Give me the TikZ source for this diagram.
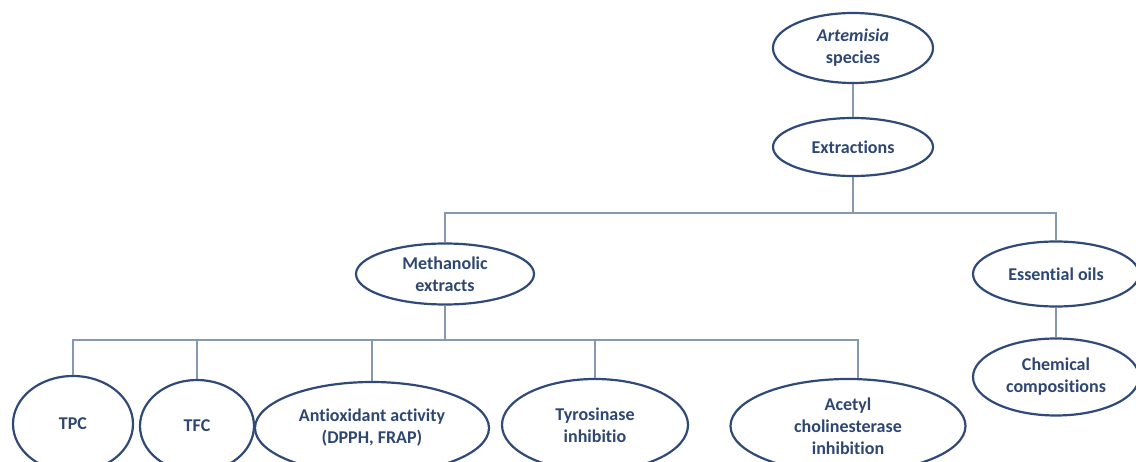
\documentclass[tikz,border=0pt]{standalone}
\usepackage{fontspec}
\setmainfont{Carlito}[Ligatures=NoCommon]
\usepackage{tikz}
\usetikzlibrary{shapes.geometric}

\definecolor{navy}{HTML}{2F4A78}
\definecolor{txtblue}{HTML}{2D4672}
\definecolor{linkgray}{HTML}{8598B0}

\tikzset{
  oval/.style={ellipse, draw=navy, line width=2.2pt, inner sep=0pt,
    align=center, text=txtblue,
    font=\fontsize{18}{22}\selectfont\bfseries},
  link/.style={draw=linkgray, line width=1.2pt}
}

\begin{document}
\begin{tikzpicture}[x=1pt,y=-1pt]
	\useasboundingbox (0,0) rectangle (1136,462);
	\clip (0,0) rectangle (1136,462);

	% top of the tree
	\node[oval, minimum width=160, minimum height=70] at (853,48) (artemisia) {\textit{Artemisia}\\species};
	\node[oval, minimum width=160, minimum height=58] at (853,147) (extr) {Extractions};

	\node[oval, minimum width=178, minimum height=61] at (445,274) (meth) {Methanolic\\extracts};
	\node[oval, minimum width=166, minimum height=65] at (1056,274) (eoils) {Essential oils};
	\node[oval, minimum width=166, minimum height=77] at (1056,377) (chem) {Chemical\\compositions};

	% assays
	\node[oval, minimum width=120, minimum height=96] at (73,424) (tpc) {TPC};
	\node[oval, minimum width=114, minimum height=92] at (197,426) (tfc) {TFC};
	\node[oval, minimum width=234, minimum height=92] at (372,428) (antiox) {Antioxidant activity\\(DPPH, FRAP)};
	\node[oval, minimum width=186, minimum height=92] at (595,425) (tyro) {Tyrosinase\\inhibitio};
	\node[oval, minimum width=235, minimum height=94] at (848,426) (ache) {Acetyl\\cholinesterase\\inhibition};

	\coordinate (bus1) at (853,213);
	\coordinate (bus2) at (445,340);

	\draw[link] (artemisia) -- (extr);
	\draw[link] (extr) -- (bus1);
	\draw[link] (meth.north) -- (meth.north |- bus1) -- (eoils.north |- bus1) -- (eoils.north);
	\draw[link] (eoils) -- (chem);

	\draw[link] (meth) -- (bus2);
	\draw[link] (tpc.north) -- (tpc.north |- bus2) -- ([xshift=10pt]ache.north |- bus2) -- ([xshift=10pt]ache.north);
	\foreach \n in {tfc,antiox,tyro}
		\draw[link] (\n.north) -- (\n.north |- bus2);
\end{tikzpicture}
\end{document}
